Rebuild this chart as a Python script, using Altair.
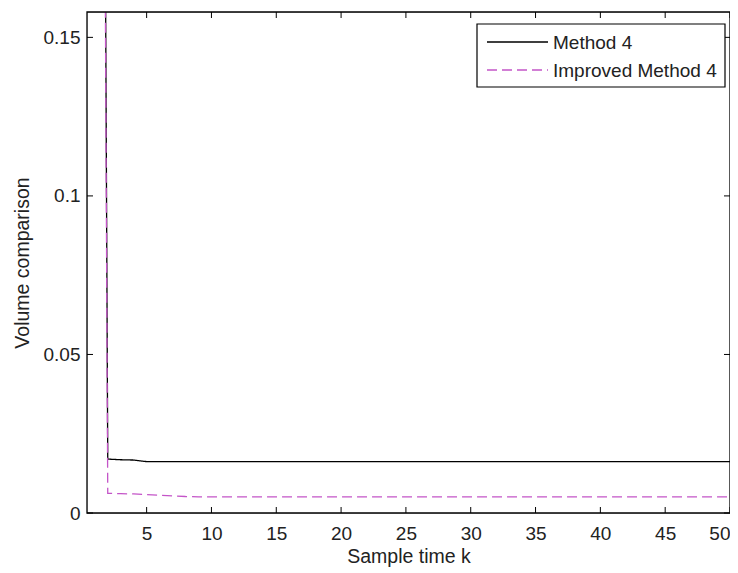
import altair as alt
import pandas as pd

k = list(range(1, 51))
method4 = [0.9, 0.0170, 0.0168, 0.0167] + [0.0162] * 46
improved = [0.85, 0.0062, 0.0061, 0.0060, 0.0058, 0.0056, 0.0054, 0.0052] + [0.0051] * 42

x_ticks = [5, 10, 15, 20, 25, 30, 35, 40, 45, 50]
y_ticks = [0, 0.05, 0.1, 0.15]

series_names = ["Method 4", "Improved Method 4"]

rows = []
for kk, a, b in zip(k, method4, improved):
    rows.append({"k": kk, "v": a, "s": series_names[0]})
    rows.append({"k": kk, "v": b, "s": series_names[1]})
df = pd.DataFrame(rows)

W, H = 643, 501
xs = alt.Scale(domain=[0.4, 50], nice=False, zero=False)
ys = alt.Scale(domain=[0, 0.158], nice=False, zero=False)
cs = alt.Scale(domain=series_names, range=["#000000", "#c455c8"])
ds = alt.Scale(domain=series_names, range=[[1, 0], [10, 5]])

font = "Liberation Sans"
FS = 19
TFS = 19.5

lines = alt.Chart(df).mark_line(clip=True, strokeWidth=1.3).encode(
    x=alt.X("k:Q", scale=xs, title="Sample time k",
            axis=alt.Axis(values=x_ticks, ticks=False, grid=False, domain=False,
                          labelPadding=11, labelFontSize=FS, titleFontSize=TFS,
                          titleFontWeight="normal", titlePadding=4, labelFont=font, titleFont=font,
                          labelColor="#222", titleColor="#222")),
    y=alt.Y("v:Q", scale=ys, title="Volume comparison",
            axis=alt.Axis(values=y_ticks, format="~g", ticks=False, grid=False, domain=False,
                          labelPadding=7, labelFontSize=FS, titleFontSize=TFS,
                          titleFontWeight="normal", titlePadding=11, labelFont=font, titleFont=font,
                          labelColor="#222", titleColor="#222")),
    color=alt.Color("s:N", scale=cs, legend=None),
    strokeDash=alt.StrokeDash("s:N", scale=ds, legend=None),
)

xt = pd.DataFrame({"t": x_ticks})
yt = pd.DataFrame({"t": y_ticks})

xb = alt.Chart(xt).mark_rule(color="black").encode(x=alt.X("t:Q", scale=xs), y=alt.value(H), y2=alt.value(H - 6))
xtop = alt.Chart(xt).mark_rule(color="black").encode(x=alt.X("t:Q", scale=xs), y=alt.value(0), y2=alt.value(6))
yl = alt.Chart(yt).mark_rule(color="black").encode(y=alt.Y("t:Q", scale=ys), x=alt.value(0), x2=alt.value(6))
yr = alt.Chart(yt).mark_rule(color="black").encode(y=alt.Y("t:Q", scale=ys), x=alt.value(W), x2=alt.value(W - 6))

frame = alt.Chart(pd.DataFrame({"a": [0]})).mark_rect(fill=None, stroke="black", strokeWidth=1.3).encode(
    x=alt.value(0), x2=alt.value(W), y=alt.value(0), y2=alt.value(H)
)

# legend drawn as a box with one sample line and label per series
leg_box = alt.Chart(pd.DataFrame({"a": [0]})).mark_rect(fill="white", stroke="black", strokeWidth=1.2).encode(
    x=alt.value(390), x2=alt.value(638), y=alt.value(12), y2=alt.value(75)
)
leg_layers = [leg_box]
for i, name in enumerate(series_names):
    d = pd.DataFrame({"s": [name]})
    yy = 30 + 28 * i
    leg_layers.append(
        alt.Chart(d).mark_rule(strokeWidth=1.5).encode(
            x=alt.value(400), x2=alt.value(461), y=alt.value(yy),
            color=alt.Color("s:N", scale=cs, legend=None),
            strokeDash=alt.StrokeDash("s:N", scale=ds, legend=None),
        )
    )
    leg_layers.append(
        alt.Chart(d).mark_text(align="left", baseline="middle", font=font, fontSize=FS, color="#222").encode(
            x=alt.value(466), y=alt.value(yy + 1), text="s:N"
        )
    )

chart = alt.layer(lines, xb, xtop, yl, yr, frame, *leg_layers).properties(
    width=W, height=H,
    padding={"left": 79, "top": 4, "right": 0, "bottom": 56},
    autosize=alt.AutoSizeParams(type="none"),
).configure_view(stroke=None).configure(background="white")

chart.save("out.html", embed_options={"renderer": "svg", "actions": False})
